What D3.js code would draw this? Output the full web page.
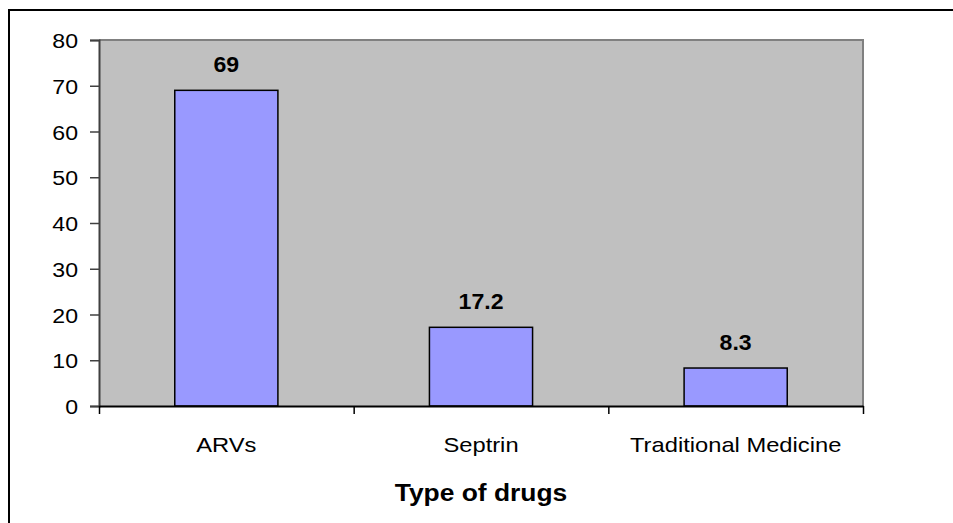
<!DOCTYPE html>
<html>
<head>
<meta charset="utf-8">
<script src="https://cdn.jsdelivr.net/npm/d3@7"></script>
<style>
  html, body { margin: 0; padding: 0; background: #fff; }
  svg { display: block; }
  text { font-family: Arial, "Liberation Sans", sans-serif; fill: #000; }
</style>
</head>
<body>
<svg id="chart" width="953" height="523"></svg>
<script>
// Drug types and the share reported for each
const categories = ["ARVs", "Septrin", "Traditional Medicine"];
const values = [69, 17.2, 8.3];
const yTicks = [0, 10, 20, 30, 40, 50, 60, 70, 80];
const xTitle = "Type of drugs";

const svg = d3.select("#chart");
const plot = { left: 99, top: 40, right: 863, bottom: 406 };
const stretch = 1.1;      // horizontal widening of the lettering
const catStretch = 1.13;  // category labels run slightly wider

// Outer frame
svg.append("rect")
  .attr("x", 9).attr("y", 10).attr("width", 980).attr("height", 540)
  .attr("fill", "#fff").attr("stroke", "#000").attr("stroke-width", 2);

const x = d3.scaleBand()
  .domain(categories)
  .range([plot.left, plot.right])
  .paddingInner(0.595)
  .paddingOuter(0.2975);

const y = d3.scaleLinear().domain([0, 80]).range([plot.bottom, plot.top]);

// Plot area background with grey top/right edges
svg.append("rect")
  .attr("x", plot.left).attr("y", plot.top)
  .attr("width", plot.right - plot.left).attr("height", plot.bottom - plot.top)
  .attr("fill", "#c0c0c0");
svg.append("path")
  .attr("d", `M${plot.left},${plot.top}H${plot.right}V${plot.bottom}`)
  .attr("fill", "none").attr("stroke", "#808080").attr("stroke-width", 2);

// Bars
svg.append("g").selectAll("rect")
  .data(values)
  .join("rect")
  .attr("x", (d, i) => x(categories[i]))
  .attr("y", d => y(d))
  .attr("width", x.bandwidth())
  .attr("height", d => y(0) - y(d))
  .attr("fill", "#9999ff")
  .attr("stroke", "#000")
  .attr("stroke-width", 1.5);

// Value labels
svg.append("g").selectAll("text")
  .data(values)
  .join("text")
  .attr("transform", (d, i) =>
    `translate(${x(categories[i]) + x.bandwidth() / 2},${y(d) - 18}) scale(1.05,1)`)
  .attr("text-anchor", "middle")
  .attr("font-size", 22)
  .attr("font-weight", "bold")
  .text(d => d);

// Y axis
const yAxis = svg.append("g")
  .attr("transform", `translate(${plot.left},0)`)
  .call(d3.axisLeft(y).tickValues(yTicks).tickSize(9).tickPadding(0));
yAxis.select(".domain").attr("stroke", "#404040").attr("stroke-width", 2);
yAxis.selectAll(".tick line").attr("stroke", "#404040").attr("stroke-width", 1.5);
yAxis.selectAll(".tick text")
  .attr("x", null).attr("dy", null)
  .attr("transform", `translate(-21,7.5) scale(${stretch},1)`)
  .attr("font-size", 21)
  .attr("font-family", "Arial, 'Liberation Sans', sans-serif")
  .attr("fill", "#000");

// X axis: tick marks between categories
const xEdges = d3.scaleLinear().domain([0, categories.length]).range([plot.left, plot.right]);
const xTickAxis = svg.append("g")
  .attr("transform", `translate(0,${plot.bottom})`)
  .call(d3.axisBottom(xEdges).tickValues(d3.range(categories.length + 1))
    .tickSize(8).tickSizeOuter(0).tickFormat(""));
xTickAxis.select(".domain").attr("stroke", "#000").attr("stroke-width", 2);
xTickAxis.selectAll(".tick line").attr("stroke", "#000").attr("stroke-width", 1.5);

// Category labels
const xLabelAxis = svg.append("g")
  .attr("transform", `translate(0,${plot.bottom})`)
  .call(d3.axisBottom(x).tickSize(0).tickPadding(0));
xLabelAxis.select(".domain").remove();
xLabelAxis.selectAll(".tick text")
  .attr("y", null).attr("dy", null)
  .attr("transform", `translate(0,46) scale(${catStretch},1)`)
  .attr("font-size", 21)
  .attr("font-family", "Arial, 'Liberation Sans', sans-serif")
  .attr("fill", "#000");

// Axis title
svg.append("text")
  .attr("transform", `translate(${(plot.left + plot.right) / 2},501) scale(${stretch},1)`)
  .attr("text-anchor", "middle")
  .attr("font-size", 24)
  .attr("font-weight", "bold")
  .text(xTitle);
</script>
</body>
</html>
